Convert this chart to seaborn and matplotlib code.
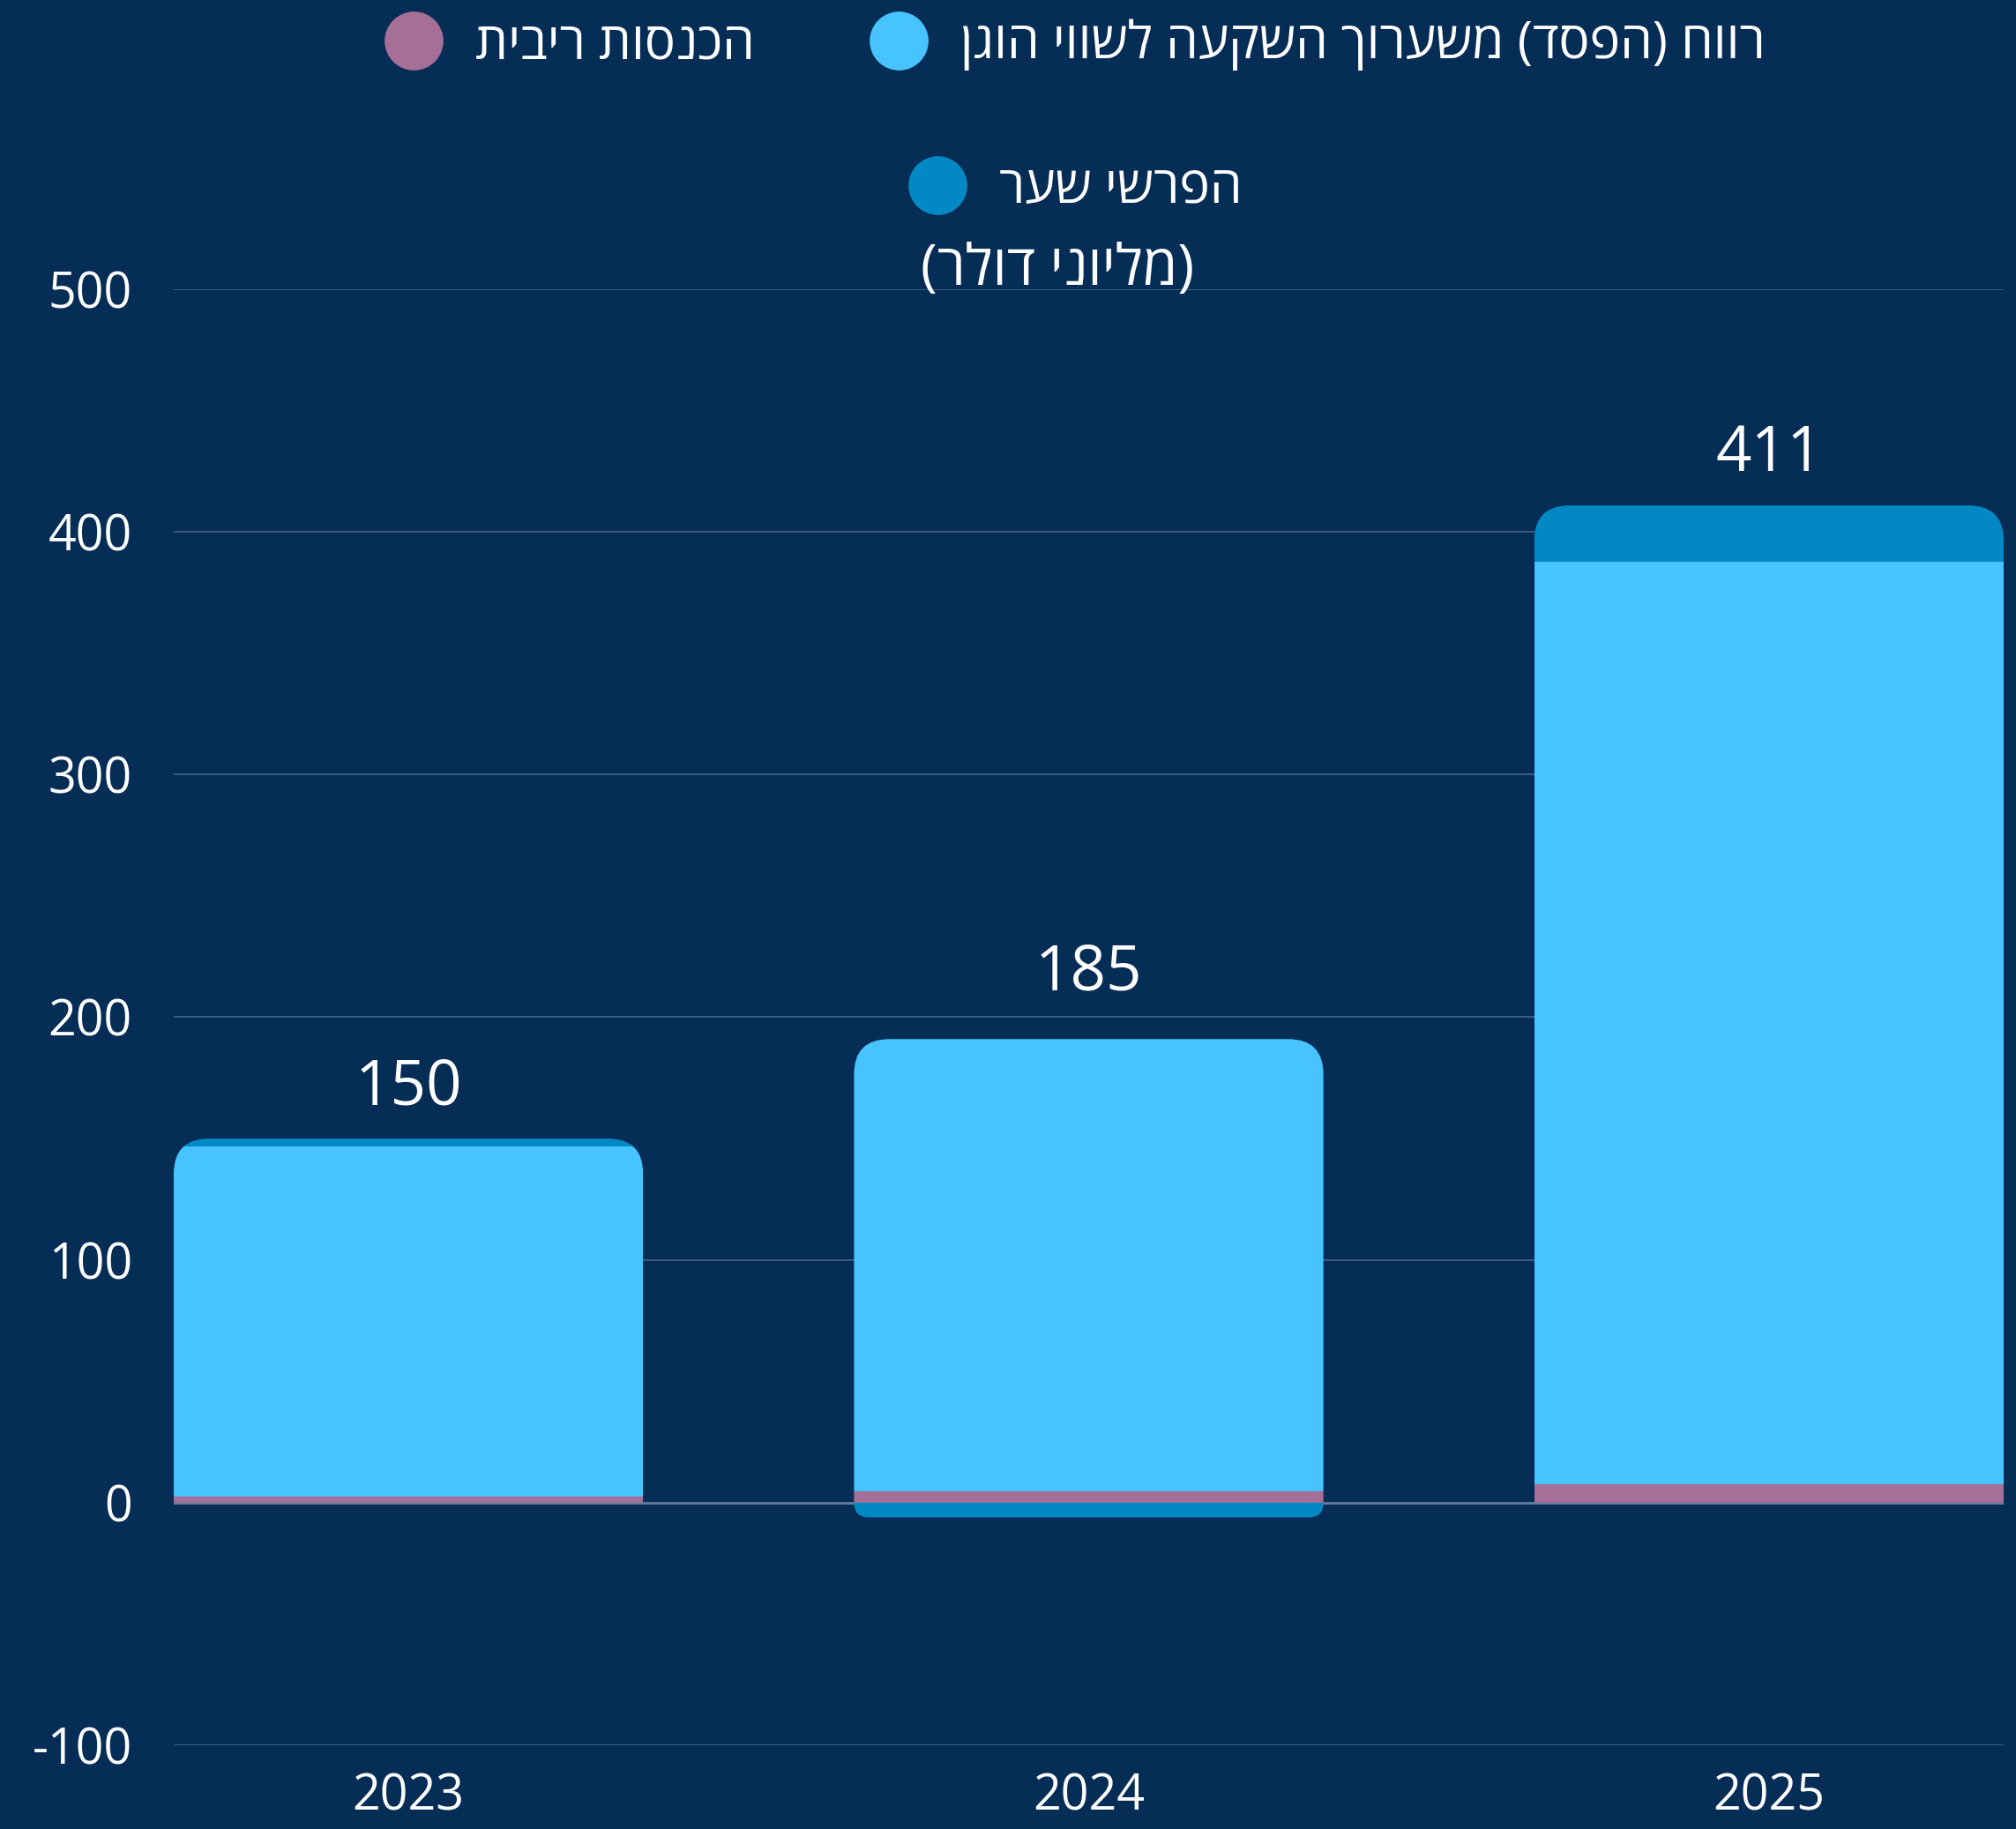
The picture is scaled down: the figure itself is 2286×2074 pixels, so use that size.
import matplotlib
matplotlib.use("Agg")
import matplotlib.pyplot as plt
import seaborn as sns
import numpy as np
from matplotlib.patches import FancyBboxPatch
from matplotlib.lines import Line2D

# data (million USD)
years = ["2023", "2024", "2025"]
interest_income = [2.5, 4.7, 7.6]
fair_value_gain = [144.4, 186.3, 380.1]
fx_differences = [3.1, -6.1, 23.2]
totals = [150, 185, 411]

series_names = ["הכנסות ריבית", "רווח (הפסד) משערוך השקעה לשווי הוגן", "הפרשי שער"]
subtitle = "(מליוני דולר)"
y_ticks = [-100, 0, 100, 200, 300, 400, 500]

BG = "#052d56"
COLORS = ["#a66f98", "#47c3ff", "#0289c4"]
FONT = ["Open Sans", "Liberation Sans", "DejaVu Sans"]


def rtl(s):
    # matplotlib has no bidi support: lay hebrew out in visual order
    mirror = {"(": ")", ")": "("}
    return "".join(mirror.get(c, c) for c in reversed(s))


sns.set_theme(style="dark")
plt.rcParams["font.family"] = FONT

W, H, DPI = 2286, 2074, 200
fig = plt.figure(figsize=(W / DPI, H / DPI), dpi=DPI, facecolor=BG)
ax = fig.add_axes([197 / W, 1 - 1979 / H, (2272 - 197) / W, (1979 - 328) / H])
ax.set_facecolor(BG)

interest = np.array(interest_income)
fair = np.array(fair_value_gain)
fx = np.array(fx_differences)

# stacking: positives go up from the positive top, negatives go down from 0
pos_base = np.zeros(3)
neg_base = np.zeros(3)
for vals, col in zip([interest, fair, fx], COLORS):
    bottom = np.where(vals >= 0, pos_base, neg_base)
    sns.barplot(x=years, y=vals, bottom=bottom, color=col, saturation=1,
                width=0.69, errorbar=None, linewidth=0, ax=ax)
    pos_base = pos_base + np.clip(vals, 0, None)
    neg_base = neg_base + np.clip(vals, None, 0)

ax.set_xlim(-0.345, 2.345)
ax.set_ylim(-100, 500)

# rounded ends: clip each stack with a rounded box
ax_w = 2272 - 197
ax_h = 1979 - 328
px_x = ax_w / 2.69
px_y = ax_h / 600
radius_px = 40
for p in ax.patches:
    i = int(round(p.get_x() + p.get_width() / 2))
    x0, w = p.get_x(), p.get_width()
    if p.get_height() >= 0:
        r = radius_px
        box = (x0, -200), w, pos_base[i] + 200
    else:
        r = min(radius_px, abs(neg_base[i]) * px_y)
        box = (x0, neg_base[i]), w, 800
    clip = FancyBboxPatch(*box, boxstyle=f"round,pad=0,rounding_size={r / px_x}",
                          mutation_aspect=px_x / px_y, transform=ax.transData)
    p.set_clip_path(clip)

# total labels above the stacks
for i, t in enumerate(totals):
    ax.annotate(str(t), (i, pos_base[i] - neg_base[i]), xytext=(0, 14),
                textcoords="offset points", ha="center", va="baseline",
                color="white", fontsize=25.5)

ax.set_yticks(y_ticks)
ax.set_yticklabels([str(v) for v in y_ticks])
ax.tick_params(axis="y", length=0, pad=17, labelsize=20, labelcolor="white")
ax.tick_params(axis="x", length=0, pad=11, labelsize=20, labelcolor="white")
ax.set_xlabel("")
ax.set_ylabel("")
ax.grid(axis="y", color="#45648a", linewidth=0.6)
ax.grid(axis="x", visible=False)
ax.axhline(0, color="#8fa3bb", linewidth=1.0, zorder=0.5)
ax.set_axisbelow(True)
for s in ax.spines.values():
    s.set_visible(False)

# legend: first row interest + fair value, second row fx
handles = [Line2D([], [], marker="o", ls="", color=c, markersize=23) for c in COLORS]
leg1 = fig.legend(handles[:2], [rtl(n) for n in series_names[:2]], ncol=2,
                  loc="center", bbox_to_anchor=(1218 / W, 1 - 51 / H), frameon=False,
                  fontsize=21, labelcolor="white", handlelength=1.2,
                  handletextpad=0.6, columnspacing=2.2)
leg2 = fig.legend(handles[2:], [rtl(series_names[2])], loc="center",
                  bbox_to_anchor=(1218 / W, 1 - 215 / H), frameon=False,
                  fontsize=21, labelcolor="white", handlelength=1.2,
                  handletextpad=0.6)

fig.text(1199 / W, 1 - 306 / H, rtl(subtitle), ha="center", va="center",
         color="white", fontsize=23)

fig.savefig("out.png", dpi=DPI, facecolor=BG)
